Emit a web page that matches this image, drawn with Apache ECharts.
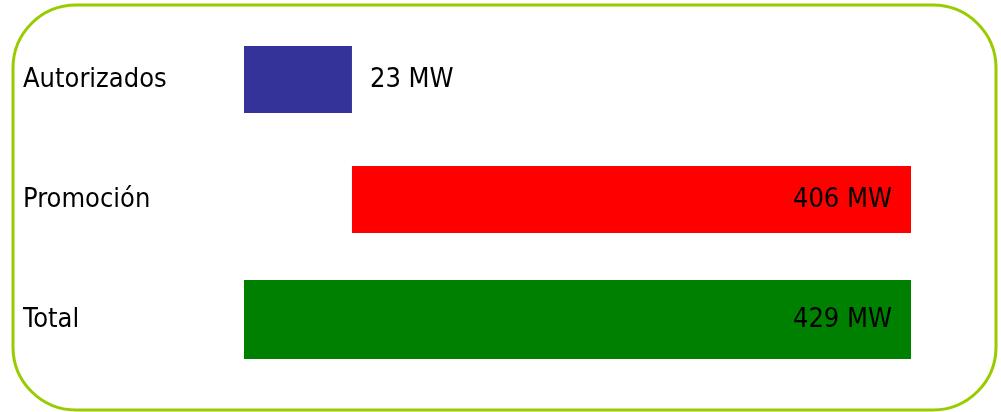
<!DOCTYPE html>
<html>
<head>
<meta charset="utf-8">
<title>Potencia eólica</title>
<script src="https://cdn.jsdelivr.net/npm/echarts@6/dist/echarts.min.js"></script>
<style>
  html, body { margin: 0; padding: 0; background: #ffffff; }
  #chart { width: 1001px; height: 412px; }
</style>
</head>
<body>
<div id="chart"></div>
<script>
// Rows of the waterfall, top to bottom
const categories = ['Autorizados', 'Promoción', 'Total'];
// Power in MW
const values = [23, 406, 429];
// 'base' rows start at the axis baseline, 'step' rows start where the previous row ended
const rowKinds = ['base', 'step', 'base'];
const unit = 'MW';

// Value axis range (the axis itself is hidden)
const AXIS_MIN = -55.4;
const AXIS_MAX = 429;

const FONT = '"DejaVu Sans Condensed", "DejaVu Sans", sans-serif';
const FONT_SIZE = 27;
const barColors = ['#333399', '#ff0000', '#008000'];
const barHeights = [67, 67, 79];
const labelPlacement = ['right', 'insideRight', 'insideRight'];

// [row index, start, end, value]
const rows = [];
let running = 0;
values.forEach((v, i) => {
  const start = rowKinds[i] === 'step' ? running : AXIS_MIN;
  const end = rowKinds[i] === 'step' ? running + v : v;
  running = end;
  rows.push([i, start, end, v]);
});

const chart = echarts.init(document.getElementById('chart'), null, { renderer: 'canvas' });

chart.setOption({
  animation: false,
  backgroundColor: '#ffffff',
  grid: { left: 244, right: 90, top: 19.5, height: 360, containLabel: false },
  xAxis: {
    type: 'value',
    min: AXIS_MIN,
    max: AXIS_MAX,
    show: false
  },
  yAxis: {
    type: 'category',
    data: categories,
    inverse: true,
    axisLine: { show: false },
    axisTick: { show: false },
    splitLine: { show: false },
    axisLabel: {
      align: 'left',
      margin: 221,
      fontFamily: FONT,
      fontSize: FONT_SIZE,
      color: '#000000'
    }
  },
  graphic: [{
    type: 'rect',
    silent: true,
    z: 100,
    shape: { x: 13, y: 5, width: 983, height: 405, r: 63 },
    style: { fill: 'none', stroke: '#99cc00', lineWidth: 3 }
  }],
  series: [{
    type: 'custom',
    data: rows,
    encode: { x: [1, 2], y: 0 },
    renderItem: function (params, api) {
      const idx = api.value(0);
      const p0 = api.coord([api.value(1), idx]);
      const p1 = api.coord([api.value(2), idx]);
      const h = barHeights[idx];
      const placement = labelPlacement[idx];
      return {
        type: 'rect',
        shape: { x: p0[0], y: p0[1] - h / 2, width: p1[0] - p0[0], height: h },
        style: { fill: barColors[idx] },
        textContent: {
          style: {
            text: api.value(3) + ' ' + unit,
            fill: '#000000',
            font: FONT_SIZE + 'px ' + FONT
          }
        },
        textConfig: {
          position: placement,
          distance: placement === 'right' ? 18 : 19
        }
      };
    }
  }]
});
</script>
</body>
</html>
